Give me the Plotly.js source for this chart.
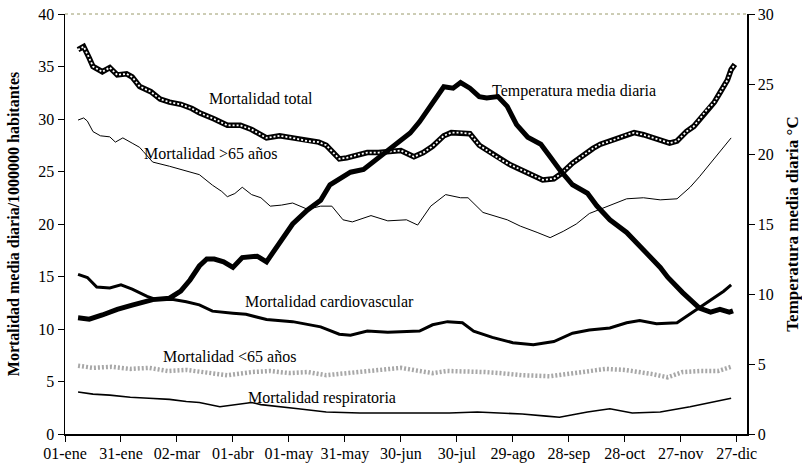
<!DOCTYPE html>
<html>
<head>
<meta charset="utf-8">
<script src="https://cdn.plot.ly/plotly-3.0.1.min.js"></script>
<style>html,body{margin:0;padding:0;background:#fff;}#chart{width:802px;height:467px;}</style>
</head>
<body>
<div id="chart"></div>
<script>
// Tick positions (day of year) and labels
const tickDays = [0, 30, 60, 90, 120, 150, 180, 210, 240, 270, 300, 330, 360];
const tickLabels = ["01-ene", "31-ene", "02-mar", "01-abr", "01-may", "31-may", "30-jun", "30-jul", "29-ago", "28-sep", "28-oct", "27-nov", "27-dic"];

// Mortalidad total
const totalDays = [7,10,13,15,20,24,28,33,36,40,46,51,56,62,68,72,80,87,94,100,108,115,122,130,136,140,147,151,157,162,168,173,180,187,192,197,203,207,212,217,222,228,233,238,244,250,256,262,266,272,278,283,287,294,301,305,310,314,319,324,328,333,337,341,344,348,351,355,357,359];
const totalVals = [36.6,36.9,35.8,35.0,34.5,34.9,34.2,34.3,34.0,33.1,32.6,31.9,31.6,31.4,31.0,30.6,30.0,29.4,29.4,29.0,28.2,28.4,28.2,27.9,27.8,27.5,26.2,26.3,26.6,26.8,26.8,26.9,27.0,26.4,26.8,27.4,28.4,28.7,28.7,28.6,27.5,26.8,26.2,25.7,25.2,24.7,24.2,24.3,24.8,25.8,26.6,27.2,27.6,28.0,28.5,28.7,28.5,28.3,28.0,27.7,27.9,28.8,29.3,30.2,30.9,31.6,32.5,33.7,34.7,35.2];

// Mortalidad >65 años
const over65Days = [7,10,12,15,19,24,27,31,36,40,42,47,56,62,69,72,79,84,87,91,95,100,105,110,116,122,130,137,143,149,154,164,173,183,189,196,204,212,216,224,237,244,253,260,267,274,281,290,301,310,319,328,335,340,346,351,357];
const over65Vals = [29.9,30.1,29.8,28.8,28.4,28.3,27.8,28.2,27.7,27.3,26.9,25.9,25.5,25.2,24.9,24.7,23.7,23.1,22.6,22.9,23.5,22.8,22.5,21.7,21.8,22.0,21.4,21.7,21.7,20.4,20.2,20.8,20.3,20.4,19.9,21.7,22.8,22.5,22.5,21.1,20.4,19.8,19.2,18.7,19.3,20.0,21.0,21.6,22.4,22.5,22.3,22.4,23.5,24.5,25.8,26.8,28.2];

// Temperatura media diaria (°C, right axis)
const tempDays = [7,13,20,28,36,47,56,62,67,72,76,80,85,90,95,103,108,115,122,130,137,142,147,153,160,169,178,185,190,194,199,203,208,212,217,222,226,232,237,242,248,255,260,265,272,280,285,292,301,310,319,323,328,331,340,346,351,356,358];
const tempVals = [8.3,8.2,8.5,8.9,9.2,9.6,9.7,10.2,11.0,12.0,12.5,12.5,12.3,11.9,12.6,12.7,12.3,13.7,15.0,16.0,16.7,17.8,18.2,18.7,18.9,19.8,20.8,21.5,22.3,23.1,24.1,24.8,24.7,25.1,24.7,24.1,24.0,24.1,23.4,22.1,21.2,20.7,19.8,18.9,17.8,17.2,16.3,15.3,14.4,13.2,11.9,11.2,10.5,10.1,9.0,8.7,8.9,8.7,8.8];

// Mortalidad cardiovascular
const cardioDays = [7,12,17,24,30,36,44,49,58,65,72,79,90,97,108,122,137,147,153,162,173,183,190,197,205,213,219,229,240,251,262,272,281,292,301,308,317,328,333,340,347,353,357];
const cardioVals = [15.2,14.9,14.0,13.9,14.2,13.8,13.1,12.8,12.8,12.6,12.3,11.7,11.5,11.4,10.9,10.7,10.2,9.5,9.4,9.8,9.7,9.8,9.8,10.4,10.7,10.6,9.8,9.2,8.7,8.5,8.8,9.6,9.9,10.1,10.6,10.8,10.5,10.6,11.2,12.0,12.8,13.6,14.2];

// Mortalidad <65 años
const under65Days = [7,15,25,35,45,55,65,75,87,100,110,120,130,140,150,160,170,180,190,197,205,215,225,233,245,260,275,290,300,305,315,323,331,340,350,357];
const under65Vals = [6.5,6.3,6.4,6.2,6.3,6.0,6.1,5.9,5.6,5.9,6.0,5.8,5.9,5.6,5.8,6.0,6.1,6.3,6.0,5.8,6.0,6.0,5.9,5.8,5.6,5.5,5.8,6.2,6.1,6.0,5.7,5.4,5.9,6.0,6.0,6.4];

// Mortalidad respiratoria
const respDays = [7,15,24,35,45,56,65,72,83,92,100,105,114,125,140,158,176,190,206,221,233,245,258,265,280,292,304,319,335,346,357];
const respVals = [4.0,3.8,3.7,3.5,3.4,3.3,3.1,3.0,2.6,2.8,3.0,2.8,2.6,2.4,2.1,2.0,2.0,2.0,2.0,2.1,2.0,1.9,1.7,1.6,2.1,2.4,2.0,2.1,2.6,3.0,3.4];

// Text labels
const labelTexts = ["Mortalidad total", "Mortalidad >65 años", "Temperatura media diaria", "Mortalidad cardiovascular", "Mortalidad <65 años", "Mortalidad respiratoria"];
const labelDays = [105, 78, 273, 141.5, 88, 137.5];
const labelVals = [32.0, 26.7, 32.7, 12.6, 7.4, 3.4];

const serif = "Liberation Serif, Times New Roman, serif";

const traces = [
  {x: under65Days, y: under65Vals, mode: "lines", line: {color: "#a8a8a8", width: 4.5, dash: "2px,2px"}},
  {x: respDays, y: respVals, mode: "lines", line: {color: "#000", width: 1.6}},
  {x: over65Days, y: over65Vals, mode: "lines", line: {color: "#000", width: 1}},
  {x: cardioDays, y: cardioVals, mode: "lines", line: {color: "#000", width: 3}},
  {x: totalDays, y: totalVals, mode: "lines", line: {color: "#000", width: 5.5}},
  {x: totalDays, y: totalVals, mode: "lines", line: {color: "#fff", width: 1.8, dash: "2px,2px"}},
  {x: tempDays, y: tempVals, yaxis: "y2", mode: "lines", line: {color: "#000", width: 5}}
];

const annotations = labelTexts.map((t, i) => ({
  text: t, x: labelDays[i], y: labelVals[i], xref: "x", yref: "y",
  showarrow: false, font: {family: serif, size: 16, color: "#000"}
}));

const layout = {
  width: 802, height: 467,
  margin: {l: 65, r: 55, t: 14, b: 33},
  paper_bgcolor: "#fff", plot_bgcolor: "#fff",
  showlegend: false,
  font: {family: serif, color: "#000", size: 16},
  xaxis: {
    range: [0, 365.5], tickmode: "array", tickvals: tickDays, ticktext: tickLabels,
    showgrid: false, zeroline: false, showline: true, linecolor: "#000", linewidth: 1.5,
    ticks: "outside", ticklen: 6, tickcolor: "#000", tickfont: {family: serif, size: 16},
    ticklabelstandoff: -2
  },
  yaxis: {
    range: [0, 40], dtick: 5, showgrid: false, zeroline: false,
    showline: true, linecolor: "#000", linewidth: 1.5,
    ticks: "outside", ticklen: 6, tickcolor: "#000", tickfont: {family: serif, size: 16},
    title: {text: "Mortalidad media diaria/1000000 habitantes", font: {family: serif, size: 16, weight: "bold"}, standoff: 14}
  },
  yaxis2: {
    range: [0, 30], dtick: 5, overlaying: "y", side: "right", showgrid: false, zeroline: false,
    showline: true, linecolor: "#000", linewidth: 1.5,
    ticks: "outside", ticklen: 6, tickcolor: "#000", tickfont: {family: serif, size: 16},
    title: {text: "Temperatura media diaria °C", font: {family: serif, size: 17, weight: "bold"}, standoff: 14}
  },
  shapes: [{type: "line", xref: "paper", yref: "paper", x0: 0, x1: 1, y0: 1, y1: 1,
            line: {color: "#9a9a6a", width: 1, dash: "dot"}}],
  annotations: annotations
};

Plotly.newPlot("chart", traces, layout, {displayModeBar: false, staticPlot: true});
</script>
</body>
</html>
